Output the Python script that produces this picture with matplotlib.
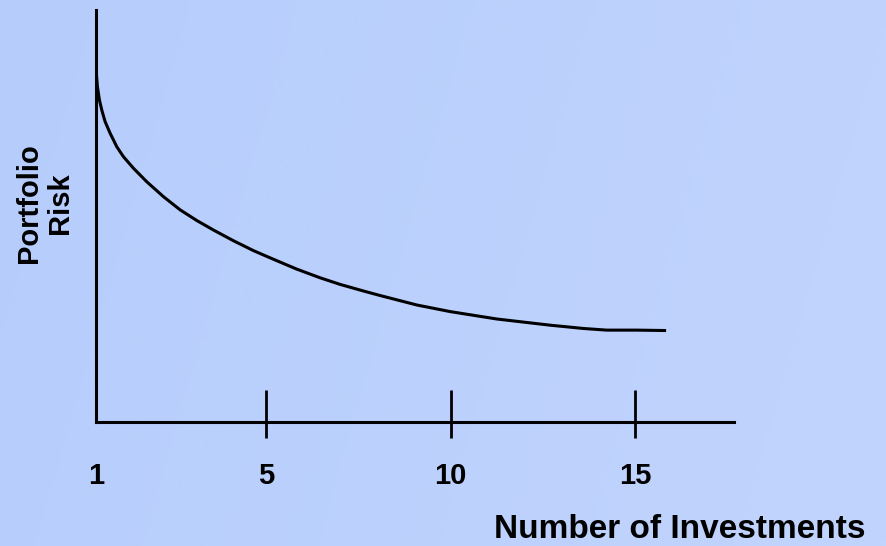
import numpy as np
import matplotlib
matplotlib.use("Agg")
import matplotlib.pyplot as plt

plt.rcParams['font.family'] = ['Liberation Sans', 'DejaVu Sans']
plt.rcParams['font.weight'] = 'bold'

# curve (number of investments, risk in arbitrary units 0-100)
investments = [0.393, 0.428, 0.482, 0.547, 0.637, 0.772, 0.954, 1.133, 1.404,
               1.767, 2.217, 2.669, 3.122, 3.572, 4.114, 4.656, 5.198, 5.832,
               6.463, 7.005, 7.637, 8.089, 9.084, 9.986, 11.252, 12.696,
               13.599, 14.233, 15.046, 15.840]
risk = [85.4, 81.4, 78.2, 75.7, 72.9, 70.1, 66.8, 64.4, 61.6,
        58.3, 54.7, 51.5, 48.9, 46.6, 44.0, 41.6, 39.5, 37.1,
        35.0, 33.4, 31.8, 30.7, 28.4, 26.8, 25.0, 23.5,
        22.7, 22.3, 22.3, 22.2]

tick_values = [5, 10, 15]
tick_labels = ['1', '5', '10', '15']
x_min, x_max = 0.39, 17.68

fig = plt.figure(figsize=(8.86, 5.46), dpi=100)

# light blue gradient background
bg = fig.add_axes([0, 0, 1, 1], zorder=-10)
gx = np.linspace(0, 1, 200)
gy = np.linspace(0, 1, 100)
X, Y = np.meshgrid(gx, gy)
c0 = np.array([182, 205, 252]) / 255
c1 = np.array([193, 212, 252]) / 255
t = np.clip(0.85 * X + 0.15 * Y, 0, 1)[..., None]
bg.imshow(c0 * (1 - t) + c1 * t, aspect='auto', extent=[0, 1, 0, 1], origin='upper')
bg.axis('off')

ax = fig.add_axes([96 / 886, 124 / 546, 638 / 886, 412 / 546])
ax.patch.set_alpha(0)
ax.plot(investments, risk, color='black', lw=2.2, solid_capstyle='butt', zorder=3)

ax.set_xlim(x_min, x_max)
ax.set_ylim(0, 100)
for s in ['top', 'right']:
    ax.spines[s].set_visible(False)
for s in ['left', 'bottom']:
    ax.spines[s].set_linewidth(2.2)
    ax.spines[s].set_capstyle('projecting')

ax.set_yticks([])
ax.xaxis.remove_overlapping_locs = False
ax.set_xticks([x_min] + tick_values)
ax.set_xticklabels(tick_labels, fontsize=21, fontweight='bold')
ax.tick_params(axis='x', which='major', direction='in', length=23, width=2, pad=29)
ax.xaxis.get_major_ticks()[0].tick1line.set_visible(False)
ax.set_xticks(tick_values, minor=True)
ax.tick_params(axis='x', which='minor', direction='out', length=11.5, width=2)

fig.text(865 / 886, 1 - 514 / 546, 'Number of Investments', ha='right', va='top',
         fontsize=24, fontweight='bold')
fig.text(44.5 / 886, 1 - 203 / 546, 'Portfolio\nRisk', rotation=90, ha='center',
         va='center', multialignment='center', linespacing=1.1,
         fontsize=21, fontweight='bold')

fig.savefig('out.png', dpi=100)
